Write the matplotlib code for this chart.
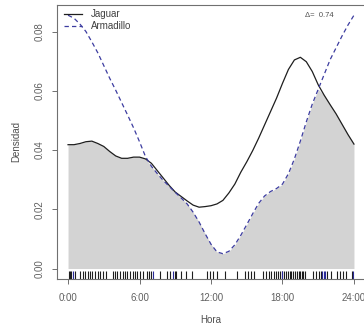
import numpy as np
import matplotlib
matplotlib.use("Agg")
import matplotlib.pyplot as plt

plt.rcParams['font.family'] = ['Liberation Sans', 'DejaVu Sans']

# Kernel density of activity (records per hour), sampled every half hour
hours = np.arange(0, 24.01, 0.5)
jaguar_density = [
    0.0418, 0.0418, 0.0422, 0.0428, 0.0430, 0.0422, 0.0412, 0.0395, 0.0380, 0.0372,
    0.0372, 0.0376, 0.0376, 0.0370, 0.0355, 0.0330, 0.0305, 0.0280, 0.0258, 0.0243,
    0.0228, 0.0214, 0.0207, 0.0209, 0.0212, 0.0218, 0.0230, 0.0255, 0.0285, 0.0325,
    0.0360, 0.0398, 0.0440, 0.0485, 0.0530, 0.0575, 0.0625, 0.0672, 0.0704, 0.0713,
    0.0698, 0.0665, 0.0620, 0.0585, 0.0553, 0.0522, 0.0487, 0.0452, 0.0420,
]
armadillo_density = [
    0.0855, 0.0845, 0.0825, 0.0800, 0.0765, 0.0728, 0.0685, 0.0642, 0.0602, 0.0560,
    0.0518, 0.0475, 0.0428, 0.0378, 0.0345, 0.0320, 0.0297, 0.0277, 0.0257, 0.0238,
    0.0218, 0.0190, 0.0157, 0.0118, 0.0082, 0.0056, 0.0050, 0.0058, 0.0080, 0.0112,
    0.0148, 0.0185, 0.0220, 0.0245, 0.0260, 0.0270, 0.0285, 0.0320, 0.0370, 0.0430,
    0.0495, 0.0555, 0.0605, 0.0655, 0.0705, 0.0745, 0.0785, 0.0822, 0.0855,
]

# Times of the camera-trap records (decimal hours)
jaguar_times = [
    0.05, 0.15, 0.25, 0.6, 1.0, 1.25, 1.45, 1.65, 1.85, 2.05, 2.3, 2.5, 2.7, 2.95, 3.2,
    3.8, 3.95, 4.15, 4.35, 4.6, 4.8, 4.95, 5.2, 5.45, 5.6, 5.8, 6.05, 6.3, 6.6, 6.8, 7.0,
    7.7, 8.3, 8.55, 9.0, 9.1, 9.5, 9.9, 10.4,
    11.7, 11.95, 12.2, 12.5, 13.2, 14.2,
    14.85, 15.1, 15.35, 15.6,
    16.4, 16.6, 16.85, 17.05, 17.25, 17.45, 17.65, 17.8, 17.95, 18.1, 18.3, 18.45,
    18.6, 18.75, 18.9, 19.05, 19.2, 19.35, 19.5, 19.6, 19.75, 19.9,
    20.6, 20.85, 21.05, 21.25, 21.7, 22.1, 22.6, 22.85, 23.1, 23.35, 23.8,
]
armadillo_times = [0.45, 7.15, 8.85, 18.0, 21.35, 21.45, 21.55, 23.9]

species = ["Jaguar", "Armadillo"]
overlap_delta = 0.74
x_ticks = [0, 6, 12, 18, 24]
x_tick_labels = ["0:00", "6:00", "12:00", "18:00", "24:00"]
y_ticks = [0.00, 0.02, 0.04, 0.06, 0.08]

W, H = 364, 330
fig = plt.figure(figsize=(W / 100, H / 100), dpi=100)
ax = fig.add_axes([56.6 / W, 51 / H, 308.8 / W, 274 / H])

jag = np.array(jaguar_density)
arm = np.array(armadillo_density)

ax.fill_between(hours, 0, np.minimum(jag, arm), color='#d3d3d3', lw=0)
ax.plot(hours, jag, color='#1e1e1e', lw=0.9, label=species[0])
ax.plot(hours, arm, color='#3c3ca0', lw=0.9, dashes=(3.5, 2.5), label=species[1])

rug_tf = ax.get_xaxis_transform()
ax.vlines(jaguar_times, 0, 0.028, transform=rug_tf, colors='#1e1e1e', lw=0.8)
ax.vlines(armadillo_times, 0, 0.028, transform=rug_tf, colors='#2a2a9a', lw=0.8)

ax.set_xlim(-0.96, 24.96)
ax.set_ylim(-0.00354, 0.08895)

ax.set_xticks(x_ticks)
ax.set_xticklabels(x_tick_labels)
ax.set_yticks(y_ticks)
ax.set_yticklabels([f"{v:.2f}" for v in y_ticks])

for s in ax.spines.values():
    s.set_color('#707070')
    s.set_linewidth(0.8)

ax.tick_params(axis='both', length=3.6, width=0.7, color='#707070',
               labelsize=7, labelcolor='#606060')
ax.tick_params(axis='x', pad=6.5)
ax.tick_params(axis='y', pad=5, labelrotation=90)
for lab in ax.get_yticklabels():
    lab.set_va('center')

fig.text(16 / W, 1 - 142 / H, "Densidad", rotation=90, ha='center', va='center',
         fontsize=7, color='#505050')
fig.text(211 / W, 1 - 320 / H, "Hora", ha='center', va='center',
         fontsize=7, color='#505050')

leg = ax.legend(loc='upper left', bbox_to_anchor=(0.024, 0.985), frameon=False,
                fontsize=7, handlelength=1.85, handletextpad=0.9,
                labelspacing=0.2, borderpad=0, borderaxespad=0)
for t in leg.get_texts():
    t.set_color('#404040')

ax.text(0.898, 0.9635, f"\u0394=  {overlap_delta:.2f}", transform=ax.transAxes,
        ha='right', va='center', fontsize=5.5, color='#505050')

fig.savefig("out.png", dpi=100)
